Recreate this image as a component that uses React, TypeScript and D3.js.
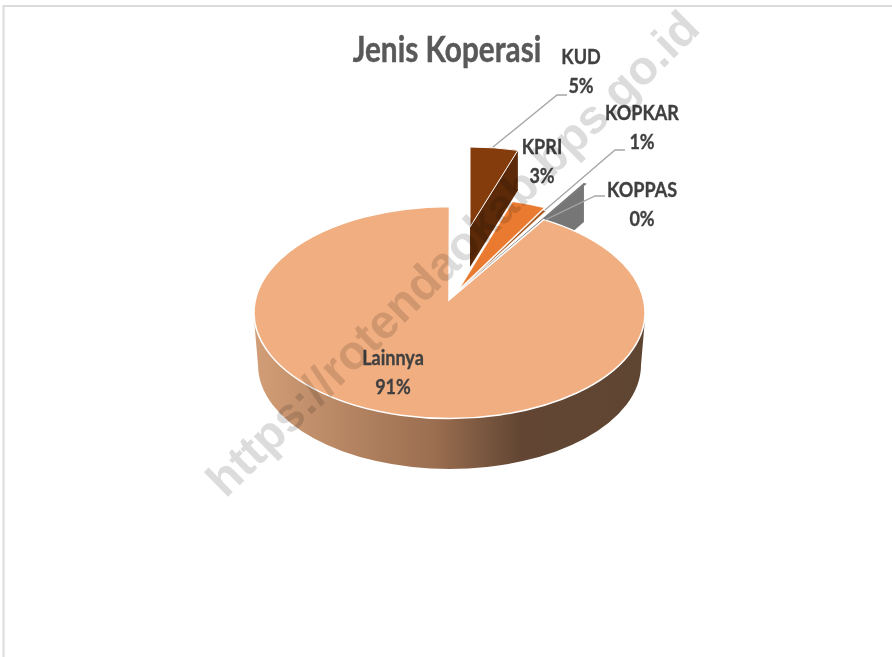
import React from 'react';
import * as d3 from 'd3';

// shares, printed labels kept apart because the source rounds them
const categories = ['KUD', 'KPRI', 'KOPKAR', 'KOPPAS', 'Lainnya'];
const shares = [4.6, 2.9, 0.3, 0.2, 92];
const percentLabels = ['5%', '3%', '1%', '0%', '91%'];
const sliceColors = ['#843c0c', '#e97a2f', '#a8581f', '#7b7b7b', '#f1ae80'];
const wallColors = ['#5c2a08', '#a8581f', '#a8581f', '#767676', '#000'];

const WIDTH = 892;
const HEIGHT = 657;
const FONT = 'Lato, Carlito, sans-serif';

// every exploded slice has its own ellipse, because of the perspective in the original
const frames = [
  { ax: 470, ay: 227, cx: 470, cy: 227, rx: 168, ry: 80, wall: 40 },
  { ax: 460, ay: 288, cx: 460, cy: 288, rx: 185, ry: 90, wall: 0 },
  { ax: 459, ay: 291, cx: 459, cy: 291, rx: 185, ry: 91, wall: 0 },
  { ax: 462, ay: 288, cx: 462, cy: 288, rx: 259, ry: 119, wall: 39 },
  { ax: 449, ay: 300, cx: 449.5, cy: 312.5, rx: 195.5, ry: 106, wall: 0 },
];

const labelPos = [
  { x: 581, y: 64 },
  { x: 542, y: 154 },
  { x: 642, y: 120 },
  { x: 642, y: 197 },
  { x: 393, y: 365 },
];

const leaders = [
  [[493, 147], [557, 95], [567, 95]],
  null,
  [[545, 210], [615, 150], [625, 150]],
  [[545, 220], [595, 196], [605, 196]],
  null,
] as ([number, number][] | null)[];

type Frame = (typeof frames)[number];

function point(f: Frame, a: number): [number, number] {
  return [f.cx + f.rx * Math.sin(a), f.cy - f.ry * Math.cos(a)];
}

function wedge(f: Frame, a0: number, a1: number) {
  const [x0, y0] = point(f, a0);
  const [x1, y1] = point(f, a1);
  const large = a1 - a0 > Math.PI ? 1 : 0;
  return `M${f.ax},${f.ay}L${x0},${y0}A${f.rx},${f.ry} 0 ${large} 1 ${x1},${y1}Z`;
}

// the wall seen along the trailing edge of an exploded slice
function wall(f: Frame, a: number) {
  const [x, y] = point(f, a);
  return `M${f.ax},${f.ay}L${x},${y}L${x},${y + f.wall}L${f.ax},${f.ay + f.wall}Z`;
}

export default function App() {
  const arcs = d3.pie<number>().sort(null)(shares);
  const line = d3.line();
  const main = frames[4];
  const bottom = { cy: 365, rx: 191.5, ry: 104 };

  const side =
    `M${main.cx - main.rx},${main.cy + 6}L${main.cx - bottom.rx},${bottom.cy}` +
    `A${bottom.rx},${bottom.ry} 0 0 0 ${main.cx + bottom.rx},${bottom.cy}` +
    `L${main.cx + main.rx},${main.cy + 6}Z`;

  return (
    <svg
      width={WIDTH}
      height={HEIGHT}
      style={{ position: 'absolute', left: 0, top: 0, background: '#fff' }}
    >
      <defs>
        <linearGradient id="sideFill" gradientUnits="userSpaceOnUse" x1={254} x2={645} y1={0} y2={0}>
          <stop offset="0" stopColor="#d29e77" />
          <stop offset="0.46" stopColor="#9b6e50" />
          <stop offset="0.68" stopColor="#624633" />
          <stop offset="1" stopColor="#5e4532" />
        </linearGradient>
      </defs>

      <rect width={WIDTH} height={HEIGHT} fill="#fff" />
      <path d="M3.5,657V6H892" fill="none" stroke="#dcdcdc" strokeWidth={2} />

      {/* the source image is stretched a little upward, hence the text scale */}
      <text
        transform="translate(447,62) scale(0.96,1.14)"
        textAnchor="middle"
        fontFamily={FONT}
        fontWeight={700}
        fontSize={31}
        fill="#595959"
        stroke="#595959"
        strokeWidth={0.4}
      >
        Jenis Koperasi
      </text>

      {/* KUD and KOPPAS walls, then their tops */}
      <path d={wall(frames[3], arcs[3].startAngle)} fill={wallColors[3]} />
      <path d={wedge(frames[3], arcs[3].startAngle, arcs[3].endAngle)} fill={sliceColors[3]} />
      <path d={wall(frames[0], arcs[0].endAngle)} fill={wallColors[0]} />
      <path d={wedge(frames[0], arcs[0].startAngle, arcs[0].endAngle)} fill={sliceColors[0]} stroke="#fff" strokeWidth={1} />

      {/* main slice */}
      <path d={side} fill="url(#sideFill)" />
      <path d={wedge(main, arcs[4].startAngle, arcs[4].endAngle)} fill={sliceColors[4]} stroke="#fff" strokeWidth={1.5} />

      <path d={wedge(frames[2], arcs[2].startAngle, arcs[2].endAngle)} fill={sliceColors[2]} stroke="#fff" strokeWidth={0.6} />
      <path d={wedge(frames[1], arcs[1].startAngle, arcs[1].endAngle)} fill={sliceColors[1]} stroke="#fff" strokeWidth={0.5} />

      {leaders.map((pts, i) =>
        pts ? <path key={i} d={line(pts) ?? ''} fill="none" stroke="#a6a6a6" strokeWidth={1.3} /> : null
      )}

      {categories.map((c, i) => (
        <text
          key={c}
          transform={`translate(${labelPos[i].x},${labelPos[i].y}) scale(0.95,1.14)`}
          textAnchor="middle"
          fontFamily={FONT}
          fontWeight={700}
          fontSize={19}
          fill="#404040"
          stroke="#404040"
          strokeWidth={0.3}
        >
          <tspan x={0} y={0}>{c}</tspan>
          <tspan x={0} y={25.5}>{percentLabels[i]}</tspan>
        </text>
      ))}

      <text
        transform="translate(455,256) rotate(-44.5)"
        textAnchor="middle"
        dominantBaseline="middle"
        fontFamily="'Liberation Sans', Arial, sans-serif"
        fontWeight={700}
        fontSize={47.5}
        fill="#dcdcdc"
        style={{ mixBlendMode: 'multiply' }}
      >
        https://rotendaokab.bps.go.id
      </text>
    </svg>
  );
}
